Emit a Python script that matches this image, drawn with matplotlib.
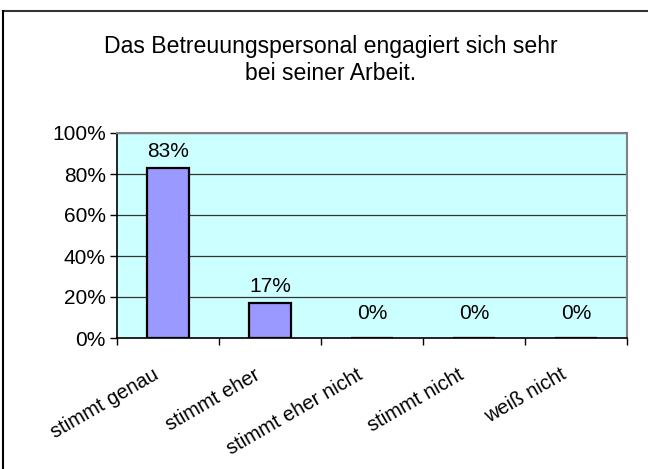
import matplotlib
matplotlib.use("Agg")
import matplotlib.pyplot as plt
from matplotlib.lines import Line2D
from matplotlib.transforms import ScaledTranslation
import numpy as np

categories = ["stimmt genau", "stimmt eher", "stimmt eher nicht", "stimmt nicht", "weiß nicht"]
values = [83, 17, 0, 0, 0]
value_labels = ["83%", "17%", "0%", "0%", "0%"]
yticks = [0, 20, 40, 60, 80, 100]
ytick_labels = ["0%", "20%", "40%", "60%", "80%", "100%"]
title = "Das Betreuungspersonal engagiert sich sehr\nbei seiner Arbeit."

plt.rcParams['font.family'] = ['Liberation Sans', 'DejaVu Sans']

fig = plt.figure(figsize=(6.48, 4.69), dpi=100)
W, H = 648, 469
ax = fig.add_axes([117 / W, 1 - 338 / H, 510 / W, 205 / H])
ax.set_facecolor('#CCFFFF')

x = np.arange(len(categories))
ax.bar(x, values, width=0.41, color='#9999FF', edgecolor='black', linewidth=1.6, zorder=3)

ax.set_xlim(-0.5, len(categories) - 0.5)
ax.set_ylim(0, 100)
ax.set_yticks(yticks)
ax.set_yticklabels(ytick_labels, fontsize=15)
ax.yaxis.grid(True, color='#333333', linewidth=0.9, zorder=1)
ax.tick_params(axis='y', direction='out', length=5, width=1, pad=3, colors='black')

ax.set_xticks(x)
ax.set_xticks(np.arange(len(categories) + 1) - 0.5, minor=True)
ax.tick_params(axis='x', which='major', length=0, pad=19.5)
ax.tick_params(axis='x', which='minor', direction='out', length=5, width=1)
ax.set_xticklabels(categories, fontsize=14.5, rotation=30, ha='right', va='top',
                   rotation_mode='anchor')
for lab in ax.get_xticklabels():
    lab.set_transform(lab.get_transform() + ScaledTranslation(-0.16, 0, fig.dpi_scale_trans))

for s in ['left', 'bottom']:
    ax.spines[s].set_color('black')
    ax.spines[s].set_linewidth(1.2)
for s in ['top', 'right']:
    ax.spines[s].set_color('#808080')
    ax.spines[s].set_linewidth(1.5)

for xi, v, lbl in zip(x, values, value_labels):
    off = 5 if v > 0 else 11
    ax.annotate(lbl, (xi, v), xytext=(0, off), textcoords='offset points',
                ha='center', va='bottom', fontsize=15, zorder=4)

fig.text(331 / W, 1 - 60 / H, title, ha='center', va='center', fontsize=16.6,
         linespacing=1.2)

# chart border (top and left visible)
fig.add_artist(Line2D([3 / W, 1.0], [1 - 11 / H, 1 - 11 / H], transform=fig.transFigure,
                      color='#333333', linewidth=1.5))
fig.add_artist(Line2D([3 / W, 3 / W], [0, 1 - 11 / H], transform=fig.transFigure,
                      color='black', linewidth=1.5))

fig.savefig('out.png', dpi=100)
